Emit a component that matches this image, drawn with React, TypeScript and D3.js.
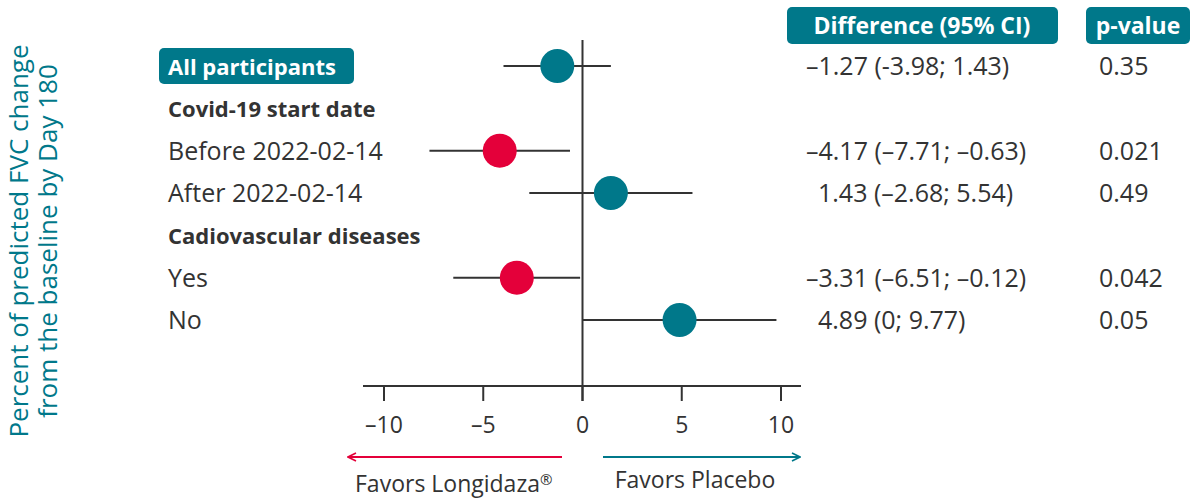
import * as d3 from "d3";
import React from "react";

const rowLabels = ["All participants", "Covid-19 start date", "Before 2022-02-14", "After 2022-02-14", "Cadiovascular diseases", "Yes", "No"];
const rowKinds = ["badge", "header", "item", "item", "header", "item", "item"];
const estimates = [-1.27, null, -4.17, 1.43, null, -3.31, 4.89];
const lowerCI = [-3.98, null, -7.71, -2.68, null, -6.51, 0];
const upperCI = [1.43, null, -0.63, 5.54, null, -0.12, 9.77];
const diffLabels = ["–1.27 (-3.98; 1.43)", "", "–4.17 (–7.71; –0.63)", "1.43 (–2.68; 5.54)", "", "–3.31 (–6.51; –0.12)", "4.89 (0; 9.77)"];
const pValues = ["0.35", "", "0.021", "0.49", "", "0.042", "0.05"];
const xTicks = [-10, -5, 0, 5, 10];

const TEAL = "#00788a";
const RED = "#e4003a";
const INK = "#333333";
const FONT = "'Open Sans', Lato, sans-serif";

const App: React.FC = () => {
  const W = 1200, H = 499;
  const x = d3.scaleLinear().domain([-10, 10]).range([384, 781]);
  const y = d3.scalePoint<number>().domain(d3.range(rowLabels.length)).range([66, 320]);
  const axisY = 386;
  const fmtTick = (v: number) => (v < 0 ? "–" + Math.abs(v) : String(v));

  return (
    <svg width={W} height={H} style={{ position: "absolute", left: 0, top: 0 }} fontFamily={FONT}>
      <defs>
        <marker id="arrRed" viewBox="0 0 10 10" refX="9" refY="5" markerWidth="10" markerHeight="10" orient="auto" markerUnits="userSpaceOnUse">
          <path d="M1,1 L9,5 L1,9" fill="none" stroke={RED} strokeWidth={1.6} />
        </marker>
        <marker id="arrTeal" viewBox="0 0 10 10" refX="9" refY="5" markerWidth="10" markerHeight="10" orient="auto" markerUnits="userSpaceOnUse">
          <path d="M1,1 L9,5 L1,9" fill="none" stroke={TEAL} strokeWidth={1.6} />
        </marker>
      </defs>

      {/* y label */}
      <g transform="translate(28,241) rotate(-90)" fill={TEAL} fontSize={26} textAnchor="middle">
        <text x={0} y={0}>Percent of predicted FVC change</text>
        <text x={0} y={29}>from the baseline by Day 180</text>
      </g>

      {/* column headers */}
      <rect x={787} y={7} width={271} height={37} rx={5} fill={TEAL} />
      <text x={922} y={34} fill="#fff" fontSize={23} fontWeight={700} textAnchor="middle">Difference (95% CI)</text>
      <rect x={1086} y={7} width={104} height={37} rx={5} fill={TEAL} />
      <text x={1138} y={34} fill="#fff" fontSize={23} fontWeight={700} textAnchor="middle">p-value</text>

      {/* zero line */}
      <line x1={x(0)} x2={x(0)} y1={40} y2={axisY + 15} stroke={INK} strokeWidth={2} />

      {/* axis */}
      <line x1={363} x2={801} y1={axisY} y2={axisY} stroke={INK} strokeWidth={2} />
      {xTicks.map(t => (
        <g key={t}>
          <line x1={x(t)} x2={x(t)} y1={axisY} y2={axisY + 15} stroke={INK} strokeWidth={2} />
          <text x={x(t)} y={433} fontSize={23} fill={INK} textAnchor="middle">{fmtTick(t)}</text>
        </g>
      ))}

      {/* rows */}
      {rowLabels.map((lab, i) => {
        const yy = y(i)!;
        const kind = rowKinds[i];
        const est = estimates[i];
        const lo = lowerCI[i];
        const hi = upperCI[i];
        return (
          <g key={lab}>
            {kind === "badge" && <rect x={159} y={yy - 18} width={195} height={36} rx={5} fill={TEAL} />}
            <text x={168} y={yy + 9} fontSize={kind === "item" ? 25 : 22} fontWeight={kind === "item" ? 400 : 700} fill={kind === "badge" ? "#fff" : INK}>{lab}</text>
            {est !== null && lo !== null && hi !== null && (
              <>
                <line x1={x(lo)} x2={x(hi)} y1={yy} y2={yy} stroke={INK} strokeWidth={2} />
                <circle cx={x(est)} cy={yy} r={17} fill={hi < 0 ? RED : TEAL} />
              </>
            )}
            {diffLabels[i] && (
              <text x={est !== null && est < 0 ? 806 : 818} y={yy + 9} fontSize={25} fill={INK}>{diffLabels[i]}</text>
            )}
            {pValues[i] && <text x={1099} y={yy + 9} fontSize={25} fill={INK}>{pValues[i]}</text>}
          </g>
        );
      })}

      {/* favors arrows */}
      <line x1={562} x2={348} y1={457} y2={457} stroke={RED} strokeWidth={1.8} markerEnd="url(#arrRed)" />
      <line x1={603} x2={800} y1={457} y2={457} stroke={TEAL} strokeWidth={1.8} markerEnd="url(#arrTeal)" />
      <text x={355} y={492} fontSize={23} fill={INK}>Favors Longidaza<tspan fontSize={15} dy={-7}>®</tspan></text>
      <text x={695} y={488} fontSize={23} fill={INK} textAnchor="middle">Favors Placebo</text>
    </svg>
  );
};

export default App;
